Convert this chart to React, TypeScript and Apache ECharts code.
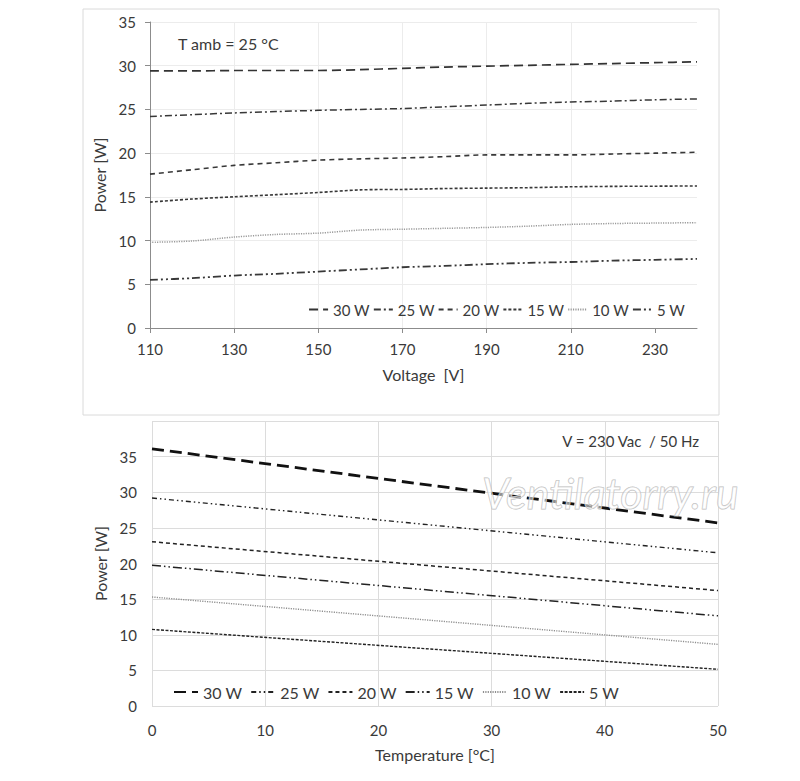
import React, { useEffect, useRef } from 'react';
import * as echarts from 'echarts';

// ---------- Data: upper chart (Power vs Voltage, T amb = 25 °C) ----------
const voltage = [110, 120, 130, 140, 150, 160, 170, 180, 190, 200, 210, 220, 230, 240];
const v30W = [29.4, 29.4, 29.45, 29.45, 29.45, 29.55, 29.7, 29.85, 29.95, 30.05, 30.15, 30.25, 30.35, 30.45];
const v25W = [24.2, 24.4, 24.6, 24.75, 24.9, 25.0, 25.1, 25.3, 25.5, 25.7, 25.85, 25.95, 26.1, 26.2];
const v20W = [17.6, 18.1, 18.6, 18.9, 19.2, 19.35, 19.45, 19.6, 19.8, 19.8, 19.8, 19.9, 20.0, 20.1];
const v15W = [14.4, 14.75, 15.0, 15.25, 15.5, 15.8, 15.85, 15.95, 16.0, 16.05, 16.15, 16.2, 16.22, 16.25];
const v10W = [9.8, 9.95, 10.4, 10.7, 10.85, 11.2, 11.3, 11.4, 11.5, 11.65, 11.85, 11.95, 12.0, 12.05];
const v5W = [5.5, 5.7, 6.0, 6.2, 6.45, 6.7, 6.95, 7.1, 7.3, 7.45, 7.55, 7.7, 7.8, 7.9];
const voltageTicks = [110, 130, 150, 170, 190, 210, 230];

// ---------- Data: lower chart (Power vs Temperature, V = 230 Vac / 50 Hz) ----------
const temperature = [0, 50];
const t30W = [36.1, 25.7];
const t25W = [29.2, 21.5];
const t20W = [23.05, 16.2];
const t15W = [19.75, 12.65];
const t10W = [15.3, 8.65];
const t5W = [10.75, 5.15];

const seriesNames = ['30 W', '25 W', '20 W', '15 W', '10 W', '5 W'];

const FONT = 'Lato';

function pairs(xs: number[], ys: number[]) {
  return xs.map((x, i) => [x, ys[i]]);
}

export default function App() {
  const ref = useRef<HTMLDivElement>(null);

  useEffect(() => {
    if (!ref.current) return;
    const chart = echarts.init(ref.current, undefined, { renderer: 'svg' });

    const topStyles = [
      { color: '#333333', width: 1.7, type: [9, 5] },
      { color: '#383838', width: 1.5, type: [7, 3, 2, 3] },
      { color: '#383838', width: 1.6, type: [5, 4] },
      { color: '#383838', width: 1.6, type: [3, 2] },
      { color: '#9a9a9a', width: 1.5, type: [1.2, 1.2] },
      { color: '#383838', width: 1.8, type: [8, 3, 2, 3, 2, 3] },
    ];
    const bottomStyles = [
      { color: '#111111', width: 2.8, type: [12, 6] },
      { color: '#222222', width: 1.4, type: [5, 3, 1.5, 3, 1.5, 3] },
      { color: '#222222', width: 1.5, type: [4, 3] },
      { color: '#222222', width: 1.5, type: [9, 3, 1.5, 3, 1.5, 3] },
      { color: '#8f8f8f', width: 1.4, type: [1.2, 1.2] },
      { color: '#222222', width: 1.4, type: [3, 1.5] },
    ];
    const topData = [v30W, v25W, v20W, v15W, v10W, v5W];
    const bottomData = [t30W, t25W, t20W, t15W, t10W, t5W];

    const series: any[] = [];
    seriesNames.forEach((n, i) => {
      series.push({
        type: 'line',
        name: n,
        xAxisIndex: 0,
        yAxisIndex: 0,
        data: pairs(voltage, topData[i]),
        symbol: 'none',
        smooth: 0.3,
        lineStyle: topStyles[i],
        itemStyle: { color: topStyles[i].color },
      });
    });
    seriesNames.forEach((n, i) => {
      series.push({
        type: 'line',
        name: 't:' + n,
        xAxisIndex: 1,
        yAxisIndex: 1,
        data: pairs(temperature, bottomData[i]),
        symbol: 'none',
        lineStyle: bottomStyles[i],
        itemStyle: { color: bottomStyles[i].color },
      });
    });

    const labelStyle = { color: '#3a3a3a', fontSize: 15, fontFamily: FONT };
    const nameStyle = { color: '#3a3a3a', fontSize: 16, fontFamily: FONT };

    chart.setOption({
      animation: false,
      backgroundColor: '#ffffff',
      textStyle: { fontFamily: FONT },
      grid: [
        { left: 150, width: 547, top: 22, height: 306 },
        { left: 152, width: 566, top: 421, height: 285 },
      ],
      xAxis: [
        {
          gridIndex: 0,
          type: 'value',
          min: 110,
          max: 240,
          interval: 20,
          name: 'Voltage  [V]',
          nameLocation: 'middle',
          nameGap: 38,
          nameTextStyle: nameStyle,
          axisLine: { show: true, lineStyle: { color: '#8c8c8c', width: 1 } },
          axisTick: { show: true, length: 5, customValues: voltageTicks, lineStyle: { color: '#8c8c8c' } },
          axisLabel: { ...labelStyle, margin: 13, customValues: voltageTicks },
          splitLine: { show: true, showMaxLine: false, lineStyle: { color: '#ececec' } },
        },
        {
          gridIndex: 1,
          type: 'value',
          min: 0,
          max: 50,
          interval: 10,
          name: 'Temperature [°C]',
          nameLocation: 'middle',
          nameGap: 40,
          nameTextStyle: nameStyle,
          axisLine: { show: false },
          axisTick: { show: false },
          axisLabel: { ...labelStyle, margin: 16 },
          splitLine: { show: true, lineStyle: { color: '#dcdcdc' } },
        },
      ],
      yAxis: [
        {
          gridIndex: 0,
          type: 'value',
          min: 0,
          max: 35,
          interval: 5,
          name: 'Power [W]',
          nameLocation: 'middle',
          nameGap: 36,
          nameTextStyle: nameStyle,
          axisLine: { show: true, lineStyle: { color: '#8c8c8c', width: 1 } },
          axisTick: { show: true, length: 5, lineStyle: { color: '#8c8c8c' } },
          axisLabel: { ...labelStyle, margin: 14 },
          splitLine: { show: true, lineStyle: { color: '#ececec' } },
        },
        {
          gridIndex: 1,
          type: 'value',
          min: 0,
          max: 40,
          interval: 5,
          name: 'Power [W]',
          nameLocation: 'middle',
          nameGap: 36,
          nameTextStyle: nameStyle,
          axisLine: { show: false },
          axisTick: { show: false },
          axisLabel: { ...labelStyle, margin: 15, showMaxLabel: false },
          splitLine: { show: true, lineStyle: { color: '#dcdcdc' } },
        },
      ],
      legend: [
        {
          data: seriesNames,
          right: 110,
          top: 297,
          itemWidth: 19,
          itemHeight: 10,
          itemGap: 3,
          itemStyle: { opacity: 0 },
          textStyle: { color: '#3a3a3a', fontSize: 15, fontFamily: FONT },
          selectedMode: false,
        },
        {
          data: seriesNames.map((n) => 't:' + n),
          left: 168,
          top: 679,
          itemWidth: 24,
          itemHeight: 10,
          itemGap: 8,
          itemStyle: { opacity: 0 },
          formatter: (n: string) => n.replace('t:', ''),
          textStyle: { color: '#3a3a3a', fontSize: 16, fontFamily: FONT },
          selectedMode: false,
        },
      ],
      graphic: [
        {
          type: 'rect',
          shape: { x: 83, y: 9, width: 636, height: 406 },
          style: { fill: 'none', stroke: '#dadada', lineWidth: 1 },
          silent: true,
          z: 0,
        },
        {
          type: 'text',
          x: 178,
          y: 43,
          style: {
            text: 'T amb = 25 °C',
            fill: '#3a3a3a',
            fontSize: 16,
            fontFamily: FONT,
            verticalAlign: 'middle',
            align: 'left',
          },
          z: 10,
        },
        {
          type: 'text',
          x: 699,
          y: 441,
          style: {
            text: 'V = 230 Vac  / 50 Hz',
            fill: '#3a3a3a',
            fontSize: 15,
            fontFamily: FONT,
            verticalAlign: 'middle',
            align: 'right',
          },
          z: 10,
        },
        {
          type: 'text',
          x: 482,
          y: 492,
          style: {
            text: 'Ventilatorry.ru',
            fill: 'rgba(255,255,255,0.55)',
            stroke: 'rgba(180,180,180,0.9)',
            lineWidth: 1,
            fontSize: 43,
            fontStyle: 'italic',
            fontFamily: FONT,
            verticalAlign: 'middle',
            align: 'left',
          },
          z: 100,
          silent: true,
        },
      ],
      series,
    });

    return () => {
      chart.dispose();
    };
  }, []);

  return (
    <div
      ref={ref}
      style={{ position: 'absolute', left: 0, top: 0, width: 800, height: 781 }}
    />
  );
}
